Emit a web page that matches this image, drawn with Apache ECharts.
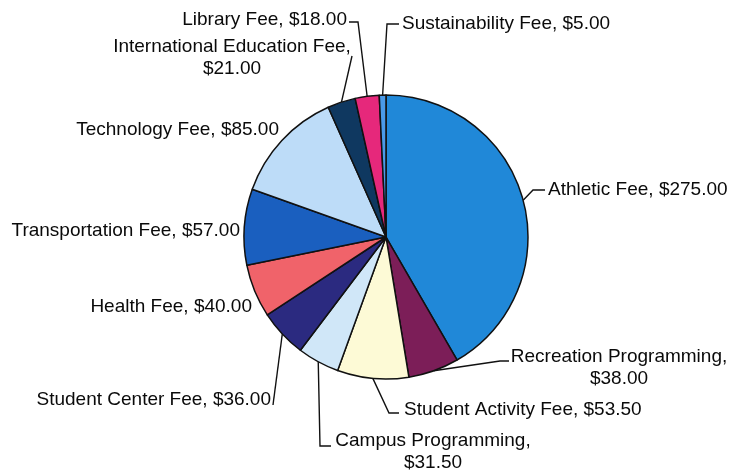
<!DOCTYPE html>
<html><head><meta charset="utf-8">
<script src="https://cdn.jsdelivr.net/npm/echarts@6/dist/echarts.min.js"></script>
<style>html,body{margin:0;padding:0;background:#fff}#c{width:730px;height:474px}</style>
</head><body><div id="c"></div>
<script>
// ---- data ----
const categories = ['Athletic Fee', 'Recreation Programming', 'Student Activity Fee', 'Campus Programming',
  'Student Center Fee', 'Health Fee', 'Transportation Fee', 'Technology Fee',
  'International Education Fee', 'Library Fee', 'Sustainability Fee'];
const feeValues = [275, 38, 53.5, 31.5, 36, 40, 57, 85, 21, 18, 5];
const sliceColors = ['#2088d8', '#7c1e58', '#fdfad6', '#d0e7f8', '#2b2a80', '#f0636a',
  '#1a5fbf', '#bddcf8', '#0f3860', '#e6287b', '#4a9ae8'];

// ---- label placement (layout only) ----
const labelPlacement = [
  { x: 548, y: 190, align: 'left', line: [[533, 190], [545, 190]] },
  { x: 619, y: 368, align: 'center', wrap: true, line: [[500, 361], [509, 361]] },
  { x: 404, y: 410, align: 'left', line: [[389, 413], [399, 413]] },
  { x: 433, y: 452, align: 'center', wrap: true, line: [[320, 446], [331, 446]] },
  { x: 271, y: 400, align: 'right', line: [[273, 405]] },
  { x: 252, y: 307, align: 'right', noLine: true },
  { x: 240, y: 231, align: 'right', noLine: true },
  { x: 279, y: 130, align: 'right', noLine: true },
  { x: 232, y: 58, align: 'center', wrap: true, line: [[352, 56]] },
  { x: 347, y: 20, align: 'right', line: [[358, 22], [349, 22]] },
  { x: 402, y: 24, align: 'left', line: [[387, 24], [399, 24]] }
];

const chart = echarts.init(document.getElementById('c'), null, { renderer: 'canvas' });
const seriesData = categories.map((name, i) => ({
  name: name,
  value: feeValues[i],
  itemStyle: { color: sliceColors[i] },
  labelLine: { show: !labelPlacement[i].noLine }
}));

chart.setOption({
  backgroundColor: '#ffffff',
  animation: false,
  series: [{
    type: 'pie',
    center: [386, 237],
    radius: [0, 142],
    startAngle: 90,
    clockwise: true,
    avoidLabelOverlap: false,
    minAngle: 0,
    data: seriesData,
    itemStyle: { borderColor: '#111111', borderWidth: 1.5 },
    emphasis: { disabled: true },
    label: {
      show: true,
      position: 'outside',
      color: '#0a0a0a',
      fontFamily: '"Liberation Sans", Arial, sans-serif',
      fontSize: 19,
      lineHeight: 22,
      formatter: function (p) {
        const sep = labelPlacement[p.dataIndex].wrap ? ',\n' : ', ';
        return p.name + sep + '$' + Number(p.value).toFixed(2);
      }
    },
    labelLine: {
      show: true,
      length: 10,
      length2: 10,
      smooth: false,
      lineStyle: { color: '#111111', width: 1.4 }
    },
    labelLayout: function (p) {
      const L = labelPlacement[p.dataIndex];
      const res = { x: L.x, y: L.y, align: L.align, verticalAlign: 'middle' };
      if (L.line && p.labelLinePoints && p.labelLinePoints.length) {
        res.labelLinePoints = [p.labelLinePoints[0].slice()].concat(L.line);
      }
      return res;
    }
  }]
});
</script>
</body></html>
